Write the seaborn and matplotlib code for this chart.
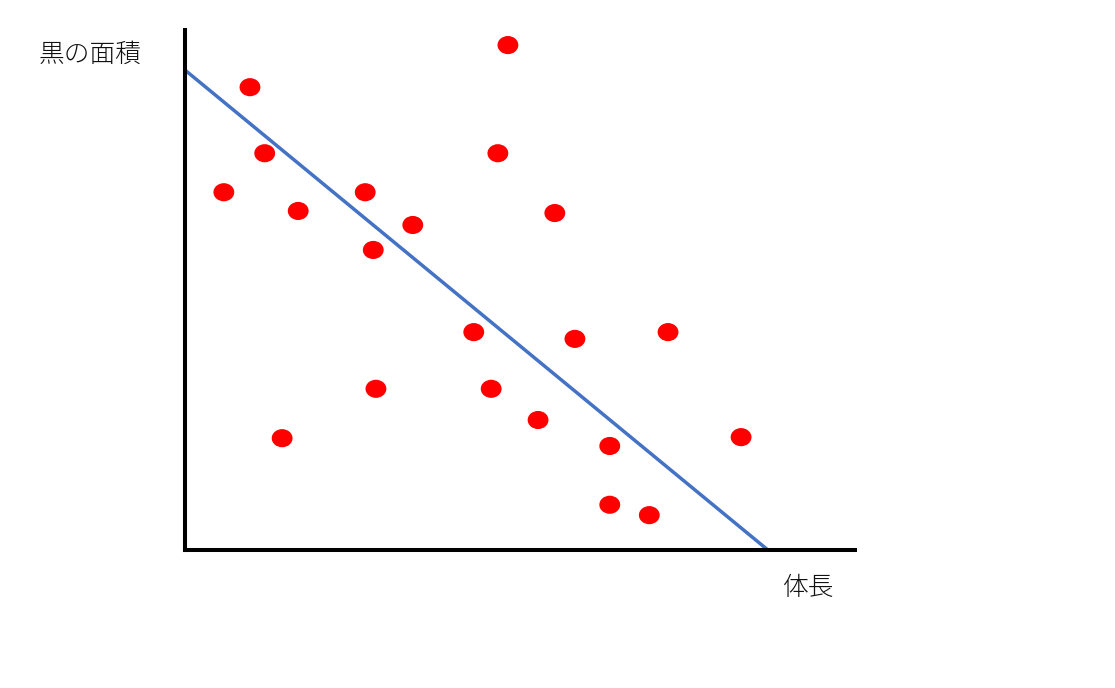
import matplotlib
matplotlib.use("Agg")
import matplotlib.pyplot as plt
from matplotlib.path import Path
from matplotlib.transforms import Affine2D
import seaborn as sns
import pandas as pd

# --- data (arbitrary units 0-10) ---
body_length = [0.97, 4.82, 1.19, 0.58, 1.69, 2.69, 3.40, 2.81, 4.67, 5.52, 4.31,
               5.82, 7.21, 2.85, 4.57, 5.27, 1.45, 6.34, 8.30, 6.34, 6.93]
black_area = [8.90, 9.71, 7.63, 6.88, 6.52, 6.88, 6.25, 5.77, 7.63, 6.48, 4.19,
              4.06, 4.19, 3.10, 3.10, 2.50, 2.15, 2.00, 2.17, 0.87, 0.67]
trend_x = [0.0, 8.70]
trend_y = [9.23, 0.0]

x_label = "体長"
y_label = "黒の面積"

df = pd.DataFrame({"x": body_length, "y": black_area})
trend = pd.DataFrame({"x": trend_x, "y": trend_y})

sns.set_style("white")
plt.rcParams["font.family"] = ["Noto Sans CJK JP", "DejaVu Sans"]

fig = plt.figure(figsize=(11.15, 6.88), dpi=100)
ax = fig.add_axes([0.1659, 0.2006, 0.6009, 0.7558])

# slightly wide ellipse marker, like the red dots in the original
ellipse = Path.unit_circle().transformed(Affine2D().scale(1.0, 0.87))

sns.lineplot(data=trend, x="x", y="y", ax=ax, color="#4472C4", linewidth=2.5)
sns.scatterplot(data=df, x="x", y="y", ax=ax, color="#FF0000", marker=ellipse,
                s=225, edgecolor="none", zorder=3)

ax.set_xlim(0, 10)
ax.set_ylim(0, 10)
ax.set_xticks([])
ax.set_yticks([])
ax.set_xlabel("")
ax.set_ylabel("")
for side in ["top", "right"]:
    ax.spines[side].set_visible(False)
for side in ["left", "bottom"]:
    ax.spines[side].set_color("black")
    ax.spines[side].set_linewidth(2.9)
    ax.spines[side].set_capstyle("projecting")

fig.text(90 / 1115, 1 - 55 / 688, y_label, fontsize=18.5, ha="center", va="center",
         weight="light", color="#111111")
fig.text(809 / 1115, 1 - 588 / 688, x_label, fontsize=18.5, ha="center", va="center",
         weight="light", color="#111111")

fig.savefig("out.png", dpi=100, facecolor="white")
